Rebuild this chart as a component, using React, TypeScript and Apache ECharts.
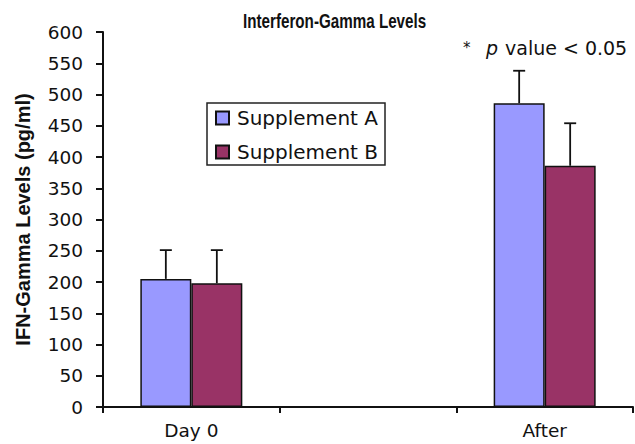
import React, { useEffect, useRef } from "react";
import * as echarts from "echarts";

const categories = ["Day 0", "", "After"];
const supplementA = [205, "-", 486];
const supplementB = [198, "-", 386];
const errorA = [251, "-", 538];
const errorB = [251, "-", 454];
const yTicks = [0, 600, 50];

export default function App() {
  const ref = useRef<HTMLDivElement>(null);
  useEffect(() => {
    const chart = echarts.init(ref.current!, null, { renderer: "svg" });
    const barW = 51;
    const errData = (means: any[], ups: any[]) =>
      means
        .map((m, i) => (m === "-" ? null : [i, m, ups[i]]))
        .filter((d) => d !== null);
    const makeErr = (offset: number) => (params: any, api: any) => {
      const idx = api.value(0);
      const base = api.coord([idx, api.value(1)]);
      const top = api.coord([idx, api.value(2)]);
      const x = base[0] + offset;
      const style = { stroke: "#111", lineWidth: 1.8 };
      return {
        type: "group",
        children: [
          { type: "line", shape: { x1: x, y1: base[1], x2: x, y2: top[1] }, style },
          { type: "line", shape: { x1: x - 6, y1: top[1], x2: x + 6, y2: top[1] }, style },
        ],
      };
    };
    const sans = "'DejaVu Sans', sans-serif";
    const arial = "'Liberation Sans', Arial, sans-serif";
    chart.setOption({
      animation: false,
      backgroundColor: "#fff",
      graphic: [
        {
          type: "text",
          x: 243,
          y: 11,
          scaleX: 0.76,
          style: {
            text: "Interferon-Gamma Levels",
            font: `bold 20px ${arial}`,
            fill: "#111",
          },
        },
        {
          type: "text",
          x: 463,
          y: 40,
          style: {
            text: "*",
            font: `15px ${sans}`,
            fill: "#111",
          },
        },
        {
          type: "text",
          x: 486,
          y: 38,
          style: {
            text: "p",
            font: `italic 19px ${sans}`,
            fill: "#111",
          },
        },
        {
          type: "text",
          x: 505,
          y: 38,
          style: {
            text: "value < 0.05",
            font: `19px ${sans}`,
            fill: "#111",
          },
        },
      ],
      legend: {
        data: ["Supplement A", "Supplement B"],
        orient: "vertical",
        left: 207,
        top: 103,
        borderColor: "#222",
        borderWidth: 1.5,
        padding: [5, 7, 3, 8],
        itemGap: 14,
        itemWidth: 13,
        itemHeight: 13,
        icon: "rect",
        textStyle: { fontFamily: sans, fontSize: 20, lineHeight: 20, color: "#111", padding: [0, 0, 0, 3] },
      },
      grid: { left: 103, right: 2, top: 32, bottom: 37 },
      xAxis: {
        type: "category",
        data: categories,
        axisLine: { lineStyle: { color: "#111", width: 2 } },
        axisTick: { show: true, length: 6, lineStyle: { color: "#111", width: 2 } },
        axisLabel: { fontFamily: sans, fontSize: 18.5, color: "#111", margin: 14 },
      },
      yAxis: {
        type: "value",
        min: yTicks[0],
        max: yTicks[1],
        interval: yTicks[2],
        name: "IFN-Gamma Levels (pg/ml)",
        nameLocation: "middle",
        nameGap: 70,
        nameTextStyle: { fontFamily: arial, fontSize: 20, fontWeight: "bold", color: "#111" },
        axisLine: { show: true, lineStyle: { color: "#111", width: 2 } },
        axisTick: { show: true, length: 7, lineStyle: { color: "#111", width: 2 } },
        axisLabel: { fontFamily: sans, fontSize: 18.5, color: "#111", margin: 20 },
        splitLine: { show: false },
      },
      series: [
        {
          name: "Supplement A",
          type: "bar",
          data: supplementA,
          barWidth: barW,
          barGap: "0%",
          itemStyle: { color: "#9999ff", borderColor: "#111", borderWidth: 1.5 },
        },
        {
          name: "Supplement B",
          type: "bar",
          data: supplementB,
          barWidth: barW,
          barGap: "0%",
          itemStyle: { color: "#993366", borderColor: "#111", borderWidth: 1.5 },
        },
        {
          type: "custom",
          renderItem: makeErr(-barW / 2),
          data: errData(supplementA, errorA),
          z: 10,
        },
        {
          type: "custom",
          renderItem: makeErr(barW / 2),
          data: errData(supplementB, errorB),
          z: 10,
        },
      ],
    });
    return () => chart.dispose();
  }, []);
  return (
    <div
      ref={ref}
      style={{ position: "absolute", left: 0, top: 0, width: 635, height: 444 }}
    />
  );
}
